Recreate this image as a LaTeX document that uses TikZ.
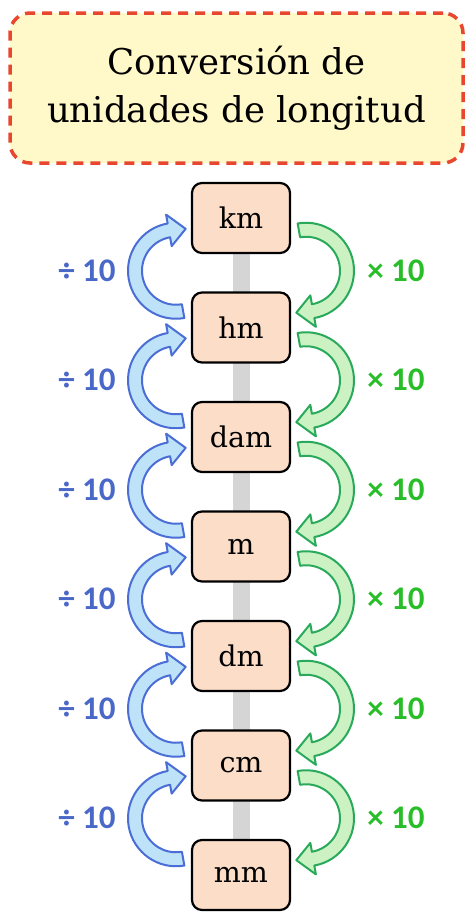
\documentclass[tikz,border=0pt]{standalone}
\usepackage{fontspec}
\newfontfamily\labelfont{Carlito}
\newfontfamily\unitfont{DejaVu Serif}
\usepackage{tikz}
\usetikzlibrary{positioning, calc, backgrounds}

\definecolor{titlefill}{RGB}{255,248,200}
\definecolor{titleline}{RGB}{232,70,46}
\definecolor{unitfill}{RGB}{252,221,200}
\definecolor{railgray}{RGB}{213,213,213}
\definecolor{divline}{RGB}{74,110,214}
\definecolor{divfill}{RGB}{190,226,248}
\definecolor{divtext}{RGB}{74,104,200}
\definecolor{mulline}{RGB}{40,170,90}
\definecolor{mulfill}{RGB}{204,242,196}
\definecolor{multext}{RGB}{40,190,40}

\begin{document}
\begin{tikzpicture}[x=1pt, y=1pt, node distance=109.5pt, on grid,
    title/.style={draw=titleline, fill=titlefill, line width=3.5pt,
      dash pattern=on 10pt off 7pt, rounded corners=20pt,
      minimum width=453pt, minimum height=150pt, align=center,
      font=\unitfont\fontsize{35.5}{48}\selectfont},
    unit/.style={draw, fill=unitfill, line width=2.2pt, rounded corners=10pt,
      minimum width=98pt, minimum height=70pt,
      font=\unitfont\fontsize{28.5}{28.5}\selectfont},
    divarrow/.style={draw=divline, fill=divfill, line width=2pt, line join=round},
    mularrow/.style={draw=mulline, fill=mulfill, line width=2pt, line join=round},
    divlabel/.style={text=divtext, font=\labelfont\bfseries\fontsize{33}{33}\selectfont},
    mullabel/.style={text=multext, font=\labelfont\bfseries\fontsize{33}{33}\selectfont}]
   \useasboundingbox (0,0) rectangle (474,-921);

   % titulo
   \node[title] (titulo) at (236.5,-88) {Conversión de\\unidades de longitud};

   % unidades
   \node[unit] (km) at (241,-218) {km};
   \node[unit] (hm) [below=of km] {hm};
   \node[unit] (dam) [below=of hm] {dam};
   \node[unit] (m) [below=of dam] {m};
   \node[unit] (dm) [below=of m] {dm};
   \node[unit] (cm) [below=of dm] {cm};
   \node[unit] (mm) [below=of cm] {mm};

   % barra gris detras
   \begin{pgfonlayer}{background}
     \draw[railgray, line width=17pt] (km.south) -- (mm.north);
   \end{pgfonlayer}

   % flechas: azul sube (dividir), verde baja (multiplicar)
   \foreach \a/\b in {km/hm, hm/dam, dam/m, m/dm, dm/cm, cm/mm} {
     \coordinate (bc) at ($(\a)!0.5!(\b)+(-65,2)$);
     \coordinate (gc) at ($(\a)!0.5!(\b)+(65,2)$);
     \path[divarrow] ($(bc)+(-80:48)$) arc[start angle=-80, end angle=-260, radius=48]
       -- ($(bc)+(100:57)$) -- ($(bc)+(77:43)$) -- ($(bc)+(100:25)$)
       -- ($(bc)+(100:34)$) arc[start angle=100, end angle=280, radius=34] -- cycle;
     \path[mularrow] ($(gc)+(100:48)$) arc[start angle=100, end angle=-80, radius=48]
       -- ($(gc)+(-80:57)$) -- ($(gc)+(-103:43)$) -- ($(gc)+(-80:25)$)
       -- ($(gc)+(-80:34)$) arc[start angle=-80, end angle=100, radius=34] -- cycle;
     \node[divlabel] (div-\a) at ($(bc)+(-89,0)$) {÷ 10};
     \node[mullabel] (mul-\a) at ($(gc)+(90,0)$) {× 10};
   }
\end{tikzpicture}
\end{document}
